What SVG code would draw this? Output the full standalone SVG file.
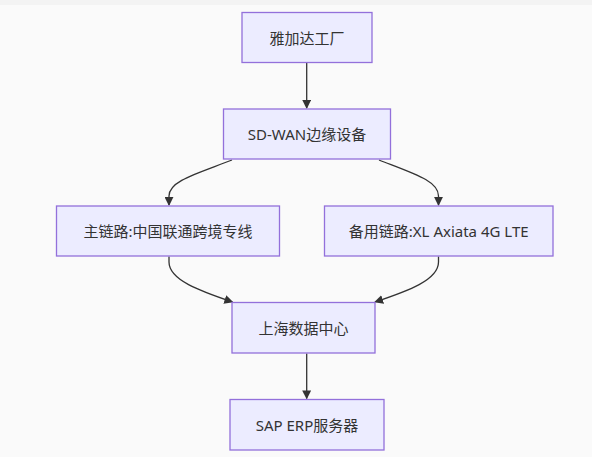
<svg xmlns="http://www.w3.org/2000/svg" width="592" height="464" viewBox="0 0 592 464">
<defs>
<style>
.node rect{fill:#ECECFF;stroke:#9370DB;stroke-width:1.3}
.node text{font-family:"Noto Sans","Noto Sans CJK SC",sans-serif;font-size:15px;fill:#333;text-anchor:middle;dominant-baseline:central}
.edges path{fill:none;stroke:#333;stroke-width:1.3}
</style>
<marker id="arrow" viewBox="0 0 10 10" refX="9" refY="5" markerUnits="userSpaceOnUse" markerWidth="9" markerHeight="9" orient="auto">
<path d="M0,0 L10,5 L0,10 z" fill="#333"/>
</marker>
</defs>
<rect x="0" y="0" width="592" height="464" fill="#ffffff"/>
<rect x="0" y="0" width="592" height="5" fill="#f3f3f3"/>
<rect x="0" y="5" width="592" height="452" fill="#fafafa"/>
<g class="edges">
<path d="M306.7,62.5 L306.7,108" marker-end="url(#arrow)"/>
<path d="M232,160 C196,174 169,181 169,196 L169,205" marker-end="url(#arrow)"/>
<path d="M379,160 C415,174 438.5,181 438.5,196 L438.5,205" marker-end="url(#arrow)"/>
<path d="M169,256.5 L169,262 C169,280 200,291 232.5,302" marker-end="url(#arrow)"/>
<path d="M438.5,256.5 L438.5,262 C438.5,280 408,291 375,302" marker-end="url(#arrow)"/>
<path d="M306.7,353.5 L306.7,398.5" marker-end="url(#arrow)"/>
</g>
<g id="node-factory" class="node"><rect x="242" y="12.5" width="130" height="50"/><text x="307" y="37.5">雅加达工厂</text></g>
<g id="node-sdwan" class="node"><rect x="223.5" y="109" width="167" height="50"/><text x="307" y="134">SD-WAN边缘设备</text></g>
<g id="node-primary" class="node"><rect x="56.5" y="206" width="223" height="50"/><text x="168" y="231">主链路:中国联通跨境专线</text></g>
<g id="node-backup" class="node"><rect x="324.5" y="206" width="228.5" height="50"/><text x="438.7" y="231">备用链路:XL Axiata 4G LTE</text></g>
<g id="node-dc" class="node"><rect x="232" y="302.5" width="143" height="50.5"/><text x="303.5" y="328">上海数据中心</text></g>
<g id="node-erp" class="node"><rect x="230" y="399.5" width="154" height="50.5"/><text x="307" y="425">SAP ERP服务器</text></g>
</svg>
